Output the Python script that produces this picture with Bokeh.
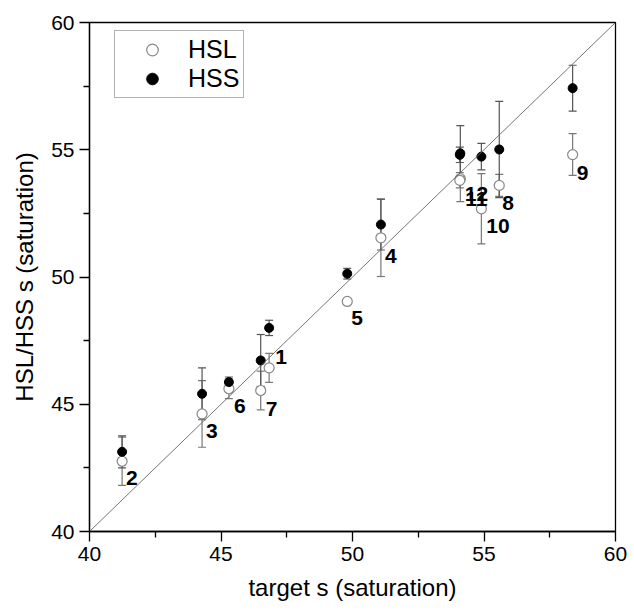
from bokeh.plotting import figure
from bokeh.models import (ColumnDataSource, Whisker, TeeHead, Legend, LegendItem,
                          FixedTicker, Range1d, Slope)
from bokeh.embed import file_html
from bokeh.resources import INLINE
from bokeh.core.properties import value

# ---- data ----
ids = ["1", "2", "3", "4", "5", "6", "7", "8", "9", "10", "11", "12"]
target = [46.83, 41.24, 44.28, 51.08, 49.80, 45.30, 46.51, 55.58, 58.37, 54.90, 54.10, 54.08]
hsl = [46.43, 42.76, 44.62, 51.54, 49.04, 45.61, 45.54, 53.60, 54.81, 52.68, 53.86, 53.80]
hsl_err = [0.57, 0.95, 1.31, 1.52, 0.05, 0.39, 0.76, 0.43, 0.82, 1.38, 0.90, 0.30]
hss = [48.00, 43.13, 45.41, 52.06, 50.13, 45.87, 46.72, 55.01, 57.42, 54.73, 54.86, 54.80]
hss_err = [0.30, 0.63, 1.02, 1.00, 0.21, 0.20, 1.02, 1.89, 0.90, 0.52, 1.09, 0.30]
x_ticks = [40, 45, 50, 55, 60]
y_ticks = [40, 45, 50, 55, 60]

# label placement (pixels, relative to HSL point)
lab_dx = [6, 4, 4, 4, 4, 5, 5, 3, 4, 5, 5, 5]
lab_dy = [-11, 17, 17, 18, 17, 17, 18, 18, 18, 17, 20, 14]

src = ColumnDataSource(dict(
    x=target, hsl=hsl, hss=hss, ids=ids,
    hsl_lo=[a - e for a, e in zip(hsl, hsl_err)],
    hsl_hi=[a + e for a, e in zip(hsl, hsl_err)],
    hss_lo=[a - e for a, e in zip(hss, hss_err)],
    hss_hi=[a + e for a, e in zip(hss, hss_err)],
    dx=lab_dx, dy=lab_dy,
))

FONT = "Liberation Sans"

p = figure(width=627, height=608, output_backend="svg", toolbar_location=None,
           x_range=Range1d(40, 60), y_range=Range1d(40, 60),
           min_border_left=89, min_border_right=12, min_border_top=22, min_border_bottom=77)
p.xgrid.visible = False
p.ygrid.visible = False
p.outline_line_color = "black"
p.outline_line_width = 1.3
p.background_fill_color = "white"
p.border_fill_color = "white"

# diagonal y = x
p.add_layout(Slope(gradient=1, y_intercept=0, line_color="#666666", line_width=0.9))

# error bars
w_hsl = Whisker(source=src, base="x", lower="hsl_lo", upper="hsl_hi", dimension="height",
                line_color="#777777", line_width=1.2,
                lower_head=TeeHead(size=8, line_color="#777777", line_width=1.2),
                upper_head=TeeHead(size=8, line_color="#777777", line_width=1.2))
w_hss = Whisker(source=src, base="x", lower="hss_lo", upper="hss_hi", dimension="height",
                line_color="#555555", line_width=1.2,
                lower_head=TeeHead(size=8, line_color="#555555", line_width=1.2),
                upper_head=TeeHead(size=8, line_color="#555555", line_width=1.2))
p.add_layout(w_hsl)
p.add_layout(w_hss)

r_hsl = p.scatter("x", "hsl", source=src, size=10, marker="circle",
                  fill_color="white", line_color="#888888", line_width=1.2)
r_hss = p.scatter("x", "hss", source=src, size=9, marker="circle",
                  fill_color="black", line_color="black", line_width=1)

p.text("x", "hsl", text="ids", source=src, x_offset="dx", y_offset="dy",
       text_font=value(FONT), text_font_style="bold", text_font_size="21px",
       text_align="left", text_baseline="middle", text_color="black")

# axes
for ax, ticks in ((p.xaxis[0], x_ticks), (p.yaxis[0], y_ticks)):
    ax.ticker = FixedTicker(ticks=ticks, minor_ticks=[42.5, 47.5, 52.5, 57.5])
    ax.major_tick_out = 10
    ax.major_tick_in = 0
    ax.minor_tick_out = 6
    ax.minor_tick_in = 0
    ax.axis_line_width = 1.3
    ax.major_tick_line_width = 1.3
    ax.minor_tick_line_width = 1.3
    ax.major_label_text_font = FONT
    ax.major_label_text_font_size = "21px"
    ax.major_label_text_color = "black"
    ax.axis_label_text_font = FONT
    ax.axis_label_text_font_size = "24px"
    ax.axis_label_text_font_style = "normal"
    ax.axis_label_text_color = "black"

p.xaxis.axis_label = "target s (saturation)"
p.yaxis.axis_label = "HSL/HSS s (saturation)"
p.xaxis.major_label_standoff = 5
p.yaxis.major_label_standoff = 5
p.xaxis.axis_label_standoff = 10
p.yaxis.axis_label_standoff = 10

legend = Legend(items=[LegendItem(label="HSL", renderers=[r_hsl]),
                       LegendItem(label="HSS", renderers=[r_hss])],
                location=(25, 433))
legend.label_text_font = FONT
legend.label_text_font_size = "25px"
legend.label_text_color = "black"
legend.border_line_color = "#666666"
legend.border_line_width = 1
legend.background_fill_color = "white"
legend.background_fill_alpha = 1
legend.padding = 4
legend.margin = 0
legend.spacing = 0
legend.glyph_width = 66
legend.glyph_height = 29
legend.label_height = 29
legend.label_standoff = 3
p.add_layout(legend, "center")

open("out.html", "w").write(file_html(p, INLINE))
